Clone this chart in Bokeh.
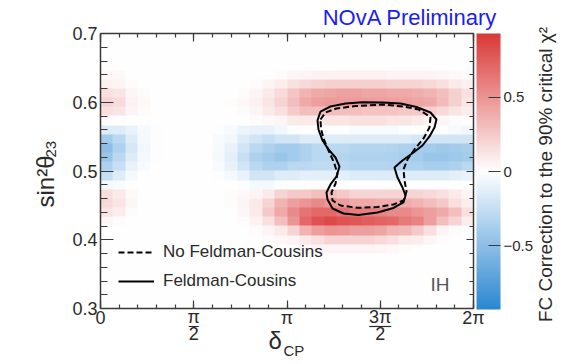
import numpy as np
from bokeh.plotting import figure
from bokeh.models import (LinearColorMapper, ColorBar, FixedTicker, LinearAxis, Label,
                          Legend, LegendItem, CustomJSTickFormatter, Range1d, PolyAnnotation)
from bokeh.embed import file_html
from bokeh.resources import INLINE

PI = np.pi

# ---------------- data ----------------
N_DELTA_BINS = 30
N_S2_BINS = 30
DELTA_MIN, DELTA_MAX = 0.0, 2 * PI
S2_MIN, S2_MAX = 0.3, 0.7

# FC correction per bin, rows indexed from the bottom (row 0 = sin^2 0.300-0.313)
ROW_06 = [0, 0, 0, 0, 0, 0, 0, 0, 0, 0, 0, 0, 0, 0, 0, 0.02, 0.03, 0.05, 0.05, 0.05, 0.05, 0.05, 0.04, 0.03, 0.02, 0, 0, 0, 0, 0]
ROW_07 = [0, 0, 0, 0, 0, 0, 0, 0, 0, 0, 0, 0, 0, 0.02, 0.03, 0.05, 0.1, 0.15, 0.2, 0.2, 0.2, 0.2, 0.18, 0.15, 0.1, 0.08, 0.04, 0.02, 0, 0]
ROW_08 = [0, 0, 0, 0, 0, 0, 0, 0, 0, 0, 0, 0, 0.02, 0.05, 0.1, 0.2, 0.35, 0.45, 0.5, 0.48, 0.45, 0.45, 0.42, 0.35, 0.33, 0.25, 0.15, 0.05, 0.02, 0]
ROW_09 = [0.04, 0.02, 0, 0, 0, 0, 0, 0, 0, 0, 0, 0.02, 0.06, 0.15, 0.3, 0.5, 0.7, 0.8, 0.85, 0.8, 0.78, 0.75, 0.72, 0.7, 0.62, 0.58, 0.45, 0.3, 0.2, 0.08]
ROW_10 = [0.12, 0.08, 0.02, 0, 0, 0, 0, 0, 0, 0, 0, 0.04, 0.1, 0.25, 0.4, 0.55, 0.65, 0.7, 0.7, 0.65, 0.6, 0.6, 0.58, 0.55, 0.55, 0.5, 0.45, 0.4, 0.3, 0.15]
ROW_11 = [0.18, 0.12, 0.04, 0, 0, 0, 0, 0, 0, 0, 0.02, 0.05, 0.1, 0.2, 0.35, 0.45, 0.5, 0.55, 0.5, 0.45, 0.4, 0.4, 0.38, 0.38, 0.38, 0.35, 0.3, 0.25, 0.15, 0.08]
ROW_12 = [0.15, 0.1, 0.03, 0, 0, 0, 0, 0, 0, 0, 0.02, 0.03, 0.05, 0.1, 0.2, 0.25, 0.25, 0.3, 0.3, 0.25, 0.2, 0.2, 0.2, 0.2, 0.2, 0.2, 0.18, 0.15, 0.1, 0.05]
ROW_13 = [-0.05, -0.03, 0, 0, 0, 0, 0, 0, 0, 0, 0, -0.02, -0.05, -0.05, -0.02, 0, 0, 0, 0, 0, 0, 0, 0, 0, 0, 0, 0, 0, 0, 0]
ROW_14 = [-0.25, -0.15, -0.05, 0, 0, 0, 0, 0, 0, -0.02, -0.05, -0.1, -0.2, -0.2, -0.15, -0.15, -0.12, -0.12, -0.12, -0.12, -0.15, -0.15, -0.15, -0.15, -0.15, -0.15, -0.15, -0.15, -0.12, -0.1]
ROW_15 = [-0.35, -0.25, -0.1, -0.03, 0, 0, 0, 0, 0, -0.03, -0.1, -0.2, -0.3, -0.35, -0.35, -0.3, -0.3, -0.28, -0.28, -0.3, -0.32, -0.32, -0.32, -0.33, -0.35, -0.35, -0.38, -0.38, -0.35, -0.3]
ROW_16 = [-0.45, -0.3, -0.15, -0.05, -0.02, 0, 0, 0, 0, -0.05, -0.12, -0.25, -0.35, -0.4, -0.45, -0.4, -0.35, -0.3, -0.3, -0.32, -0.35, -0.35, -0.35, -0.35, -0.38, -0.4, -0.45, -0.45, -0.42, -0.4]
ROW_17 = [-0.5, -0.35, -0.18, -0.06, -0.02, 0, 0, 0, 0, -0.04, -0.1, -0.2, -0.3, -0.35, -0.4, -0.4, -0.35, -0.3, -0.3, -0.3, -0.32, -0.32, -0.32, -0.33, -0.35, -0.38, -0.4, -0.42, -0.4, -0.38]
ROW_18 = [-0.4, -0.3, -0.15, -0.05, -0.02, 0, 0, 0, 0, -0.03, -0.06, -0.15, -0.2, -0.25, -0.2, -0.2, -0.15, -0.15, -0.15, -0.15, -0.15, -0.15, -0.15, -0.15, -0.15, -0.18, -0.2, -0.2, -0.2, -0.2]
ROW_19 = [-0.15, -0.15, -0.1, -0.04, -0.02, 0, 0, 0, 0, -0.02, -0.04, -0.08, -0.1, -0.1, -0.06, -0.02, 0, 0, -0.02, -0.02, -0.03, -0.03, -0.03, -0.03, -0.02, 0, 0, -0.02, -0.04, -0.06]
ROW_20 = [0.02, 0.01, 0, 0, 0, 0, 0, 0, 0, 0, 0, 0, 0.02, 0.03, 0.05, 0.1, 0.1, 0.1, 0.12, 0.12, 0.14, 0.14, 0.14, 0.13, 0.12, 0.1, 0.06, 0.04, 0.02, 0.01]
ROW_21 = [0.15, 0.12, 0.05, 0.02, 0, 0, 0, 0, 0, 0, 0, 0.02, 0.05, 0.1, 0.15, 0.24, 0.3, 0.3, 0.3, 0.3, 0.3, 0.28, 0.28, 0.28, 0.26, 0.25, 0.22, 0.18, 0.12, 0.08]
ROW_22 = [0.2, 0.17, 0.06, 0.03, 0, 0, 0, 0, 0, 0, 0.02, 0.03, 0.06, 0.12, 0.2, 0.3, 0.4, 0.45, 0.46, 0.46, 0.46, 0.46, 0.45, 0.45, 0.44, 0.42, 0.4, 0.32, 0.22, 0.12]
ROW_23 = [0.15, 0.12, 0.04, 0.02, 0, 0, 0, 0, 0, 0, 0, 0.02, 0.05, 0.1, 0.17, 0.27, 0.35, 0.4, 0.42, 0.44, 0.44, 0.42, 0.42, 0.4, 0.4, 0.38, 0.35, 0.3, 0.22, 0.15]
ROW_24 = [0.06, 0.05, 0.02, 0, 0, 0, 0, 0, 0, 0, 0, 0, 0.02, 0.05, 0.08, 0.14, 0.18, 0.2, 0.22, 0.22, 0.22, 0.22, 0.22, 0.2, 0.2, 0.2, 0.18, 0.15, 0.1, 0.07]
ROW_25 = [0.03, 0.03, 0, 0, 0, 0, 0, 0, 0, 0, 0, 0, 0, 0, 0.02, 0.04, 0.05, 0.06, 0.06, 0.06, 0.06, 0.06, 0.06, 0.05, 0.05, 0.05, 0.05, 0.04, 0.03, 0.02]
ROWS = {6: ROW_06, 7: ROW_07, 8: ROW_08, 9: ROW_09, 10: ROW_10, 11: ROW_11, 12: ROW_12,
        13: ROW_13, 14: ROW_14, 15: ROW_15, 16: ROW_16, 17: ROW_17, 18: ROW_18, 19: ROW_19,
        20: ROW_20, 21: ROW_21, 22: ROW_22, 23: ROW_23, 24: ROW_24, 25: ROW_25}

# 90% contours (delta_CP in rad, sin^2 theta23)
FC_DELTA = [3.655, 3.706, 3.874, 4.127, 4.413, 4.750, 5.054, 5.323, 5.559, 5.660, 5.626, 5.542,
            5.424, 5.272, 5.087, 4.952, 5.003, 5.087, 5.138, 5.104, 4.936, 4.666, 4.346, 4.093,
            3.908, 3.824, 3.807, 3.874, 3.975, 4.026, 3.959, 3.841, 3.740, 3.672, 3.655]
FC_S2 = [0.5735, 0.5865, 0.5938, 0.5982, 0.6001, 0.5996, 0.5982, 0.5931, 0.5851, 0.5749, 0.5633, 0.5502,
         0.5371, 0.5269, 0.5153, 0.5051, 0.4905, 0.4760, 0.4644, 0.4542, 0.4462, 0.4396, 0.4360, 0.4382,
         0.4455, 0.4585, 0.4687, 0.4804, 0.4920, 0.5065, 0.5196, 0.5313, 0.5444, 0.5604, 0.5735]
NOFC_DELTA = [3.706, 3.790, 3.975, 4.295, 4.750, 5.104, 5.357, 5.559, 5.542, 5.441, 5.289, 5.171,
              5.104, 5.121, 5.155, 5.104, 4.936, 4.666, 4.329, 4.043, 3.908, 3.891, 3.959, 3.992,
              3.933, 3.841, 3.756, 3.714, 3.706]
NOFC_S2 = [0.5749, 0.5851, 0.5909, 0.5945, 0.5967, 0.5938, 0.5895, 0.5785, 0.5633, 0.5473, 0.5313, 0.5167,
           0.5022, 0.4862, 0.4702, 0.4571, 0.4513, 0.4476, 0.4465, 0.4498, 0.4571, 0.4687, 0.4818, 0.4964,
           0.5124, 0.5298, 0.5473, 0.5618, 0.5749]

Y_TICKS = [0.3, 0.4, 0.5, 0.6, 0.7]
X_TICKS = [0.0, PI / 2, PI, 3 * PI / 2, 2 * PI]
X_TICK_NUM = ["0", "π", "π", "3π", "2π"]
X_TICK_DEN = [None, "2", None, "2", None]
CBAR_TICKS = [-0.5, 0.0, 0.5]
Z_LOW, Z_HIGH = -0.93, 0.93
LEGEND_LABELS = ["No Feldman-Cousins", "Feldman-Cousins"]

# ---------------- style ----------------
FONT = "Liberation Sans"
TXT = "#2a2a2a"
AX = "#3a3a3a"
BLUE_END = (43, 135, 208)
RED_END = (217, 57, 55)
BASE_FIX = 0.32  # em offset between Bokeh's label anchor and the glyph baseline


def make_palette(n=256):
    pal = []
    for t in np.linspace(-1, 1, n):
        end = BLUE_END if t < 0 else RED_END
        a = abs(t)
        r, g, b = (int(round(255 + (c - 255) * a)) for c in end)
        pal.append("#%02x%02x%02x" % (r, g, b))
    return pal


z = np.zeros((N_S2_BINS, N_DELTA_BINS))
for k, row in ROWS.items():
    z[k, :] = row

W, H = 572, 364
FL, FR, FT, FB = 100, 473, 33, 308  # data-region edges in canvas px


def X(px):
    return DELTA_MIN + (px - FL) / (FR - FL) * (DELTA_MAX - DELTA_MIN)


def Y(py):
    return S2_MIN + (FB - py) / (FB - FT) * (S2_MAX - S2_MIN)


# the frame fills the whole canvas; the data region is drawn through fixed-location axes
p = figure(width=W, height=H, x_range=Range1d(X(0), X(W)), y_range=Range1d(Y(H), Y(0)),
           output_backend="svg", toolbar_location=None, min_border=0)
p.grid.visible = False
p.outline_line_color = None
p.background_fill_color = "white"
p.border_fill_color = "white"

mapper = LinearColorMapper(palette=make_palette(), low=Z_LOW, high=Z_HIGH)
p.image(image=[z], x=DELTA_MIN, y=S2_MIN, dw=DELTA_MAX - DELTA_MIN, dh=S2_MAX - S2_MIN,
        color_mapper=mapper)

r_nofc = p.line(NOFC_DELTA, NOFC_S2, line_color="black", line_width=2, line_dash="6 3")
r_fc = p.line(FC_DELTA, FC_S2, line_color="black", line_width=2)

empty = CustomJSTickFormatter(code="return ''")
y_minor = [round(S2_MIN + 0.02 * k, 3) for k in range(21)]
x_minor = [k * PI / 10 for k in range(21)]


def style_axis(ax, major, minor):
    ax.axis_line_color = AX
    ax.axis_line_width = 1.5
    ax.major_tick_line_color = AX
    ax.minor_tick_line_color = AX
    ax.major_tick_line_width = 1.2
    ax.minor_tick_line_width = 1.2
    ax.major_tick_in = major
    ax.major_tick_out = 0
    ax.minor_tick_in = minor
    ax.minor_tick_out = 0


ya = p.yaxis[0]
ya.ticker = FixedTicker(ticks=Y_TICKS, minor_ticks=y_minor)
ya.fixed_location = DELTA_MIN
ya.bounds = (S2_MIN, S2_MAX)
style_axis(ya, 13, 7)
ya.major_label_text_font = FONT
ya.major_label_text_font_size = "18px"
ya.major_label_text_color = TXT
ya.major_label_standoff = 3

xa = p.xaxis[0]
xa.ticker = FixedTicker(ticks=X_TICKS, minor_ticks=x_minor)
xa.formatter = empty
xa.fixed_location = S2_MIN
xa.bounds = (DELTA_MIN, DELTA_MAX)
style_axis(xa, 8, 4)

ra = LinearAxis(ticker=FixedTicker(ticks=Y_TICKS, minor_ticks=y_minor), formatter=empty,
                fixed_location=DELTA_MAX, bounds=(S2_MIN, S2_MAX))
style_axis(ra, 7, 4)
p.add_layout(ra, "right")

ta = LinearAxis(ticker=FixedTicker(ticks=X_TICKS, minor_ticks=x_minor), formatter=empty,
                fixed_location=S2_MAX, bounds=(DELTA_MIN, DELTA_MAX))
style_axis(ta, 8, 4)
p.add_layout(ta, "above")

cb = ColorBar(color_mapper=mapper, ticker=FixedTicker(ticks=CBAR_TICKS),
              formatter=CustomJSTickFormatter(code="return tick < 0 ? '\u2212' + Math.abs(tick) : String(tick)"),
              width=24, height=276, location=(476, H - 309), padding=0, margin=0,
              major_tick_in=12, major_tick_out=0,
              major_tick_line_color=AX, minor_tick_line_color=None, bar_line_color=None,
              border_line_color=None, background_fill_color=None, label_standoff=3,
              major_label_text_font=FONT, major_label_text_font_size="15px",
              major_label_text_color=TXT)
p.add_layout(cb)

legend = Legend(items=[LegendItem(label=LEGEND_LABELS[0], renderers=[r_nofc]),
                       LegendItem(label=LEGEND_LABELS[1], renderers=[r_fc])],
                location=(118, H - 291), border_line_color=None, background_fill_alpha=0,
                padding=0, margin=0, spacing=9, glyph_width=36, glyph_height=20,
                label_height=20, label_standoff=9, label_text_font=FONT,
                label_text_font_size="17px", label_text_color=TXT)
p.add_layout(legend)


def lab(px, py, text, size, color=TXT, align="left", rotated=False):
    fs = float(size.replace("px", ""))
    if rotated:
        px, angle = px - BASE_FIX * fs, PI / 2
    else:
        py, angle = py - BASE_FIX * fs, 0.0
    p.add_layout(Label(x=X(px), y=Y(py), text=text, text_font=FONT, text_font_size=size,
                       text_color=color, text_align=align, text_baseline="alphabetic",
                       angle=angle))


# x tick labels (fractions drawn as numerator / bar / denominator)
for xv, num, den in zip(X_TICKS, X_TICK_NUM, X_TICK_DEN):
    cx = FL + (xv - DELTA_MIN) / (DELTA_MAX - DELTA_MIN) * (FR - FL)
    if den is None:
        lab(cx, 323, num, "18px", align="center")
    else:
        lab(cx, 322, num, "18px", align="center")
        lab(cx, 339, den, "18px", align="center")
        hw = 5 if len(num) == 1 else 11
        p.add_layout(PolyAnnotation(xs=[X(cx - hw), X(cx + hw), X(cx + hw), X(cx - hw)],
                                    ys=[Y(325.4), Y(325.4), Y(326.6), Y(326.6)],
                                    fill_color=TXT, fill_alpha=1, line_color=None))

# axis titles and annotations
lab(53, 207, "sin²θ", "24px", rotated=True)
lab(55, 157, "23", "15px", rotated=True)
lab(268, 348, "δ", "24px")
lab(283, 355, "CP", "15px")
lab(551, 174, "FC Correction to the 90% critical χ²", "19px", align="center", rotated=True)
lab(497, 24, "NOvA Preliminary", "22px", color="#1c1cf5", align="right")
lab(430, 290, "IH", "19px", color="#555555")

open("out.html", "w").write(file_html(p, INLINE))
